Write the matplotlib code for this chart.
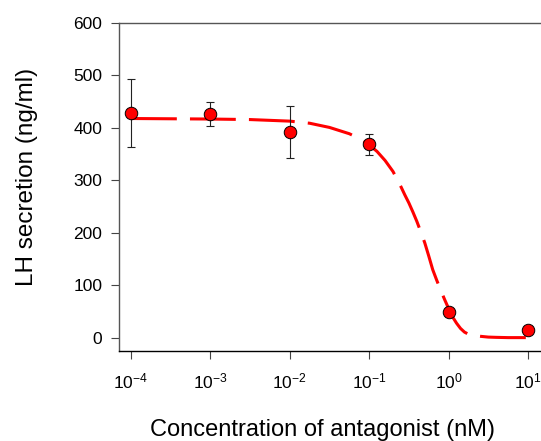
import numpy as np
import matplotlib
matplotlib.use("Agg")
import matplotlib.pyplot as plt

plt.rcParams['font.family'] = ['Liberation Sans', 'DejaVu Sans']
plt.rcParams['mathtext.fontset'] = 'custom'
plt.rcParams['mathtext.rm'] = 'Liberation Sans'
plt.rcParams['mathtext.default'] = 'regular'

# Measured points
conc = [1e-4, 1e-3, 1e-2, 1e-1, 1e0, 1e1]
lh_mean = [428, 427, 392, 369, 50, 15]
lh_err = [65, 23, 50, 20, 0, 0]

# Fitted curve (log10 concentration, LH)
curve_logx = [-4.0, -3.0, -2.5, -2.0, -1.75, -1.5, -1.25, -1.1, -1.0, -0.9,
              -0.8, -0.7, -0.6, -0.55, -0.5, -0.45, -0.4, -0.35, -0.3, -0.25,
              -0.2, -0.15, -0.1, -0.05, 0.0, 0.05, 0.1, 0.15, 0.2, 0.25,
              0.3, 0.4, 0.5, 0.6, 0.75, 1.0]
curve_lh = [418, 417, 416, 413, 409, 401, 389, 378, 368, 355,
            338, 317, 288, 272, 257, 240, 222, 202, 181, 156,
            130, 110, 91, 73, 56, 40, 28, 18, 11, 7,
            5, 3, 1.5, 1, 0.5, 0.5]

xticks = [1e-4, 1e-3, 1e-2, 1e-1, 1e0, 1e1]
xtick_labels = [r'$10^{-4}$', r'$10^{-3}$', r'$10^{-2}$', r'$10^{-1}$', r'$10^{0}$', r'$10^{1}$']
yticks = [0, 100, 200, 300, 400, 500, 600]

fig = plt.figure(figsize=(5.41, 4.41), dpi=100)
ax = fig.add_axes([119 / 541, 90 / 441, 426 / 541, 328 / 441])

curve_x = [10 ** v for v in curve_logx]
line, = ax.plot(curve_x, curve_lh, color='#ff0000', lw=2.2, zorder=2)
line.set_dashes([15, 4.3])

ax.errorbar(conc, lh_mean, yerr=lh_err, fmt='none', ecolor='#222222',
            elinewidth=0.8, capsize=3.2, capthick=0.8, zorder=3)
ax.plot(conc, lh_mean, 'o', color='#ff0000', markersize=9,
        markeredgecolor='black', markeredgewidth=0.7, zorder=4)

ax.set_xscale('log')
ax.set_xlim(10 ** -4.151, 10 ** 1.214)
ax.set_ylim(-25, 600)
ax.set_xticks(xticks)
ax.set_xticklabels(xtick_labels)
ax.minorticks_off()
ax.set_yticks(yticks)

ax.tick_params(axis='both', direction='out', length=6, width=0.8,
               color='#444444', labelsize=12.5)
ax.tick_params(axis='x', pad=9)
ax.tick_params(axis='y', pad=6)

for side in ['left', 'top', 'right']:
    ax.spines[side].set_color('#555555')
    ax.spines[side].set_linewidth(1.0)
ax.spines['bottom'].set_color('black')
ax.spines['bottom'].set_linewidth(1.0)

ax.set_xlabel('Concentration of antagonist (nM)', fontsize=17)
ax.set_ylabel('LH secretion (ng/ml)', fontsize=17.5)
ax.xaxis.set_label_coords((322 - 119) / 426, -(419 - 351) / 328)
ax.yaxis.set_label_coords(-(119 - 38) / 426, (351 - 177) / 328)

fig.savefig('out.png', dpi=100)
